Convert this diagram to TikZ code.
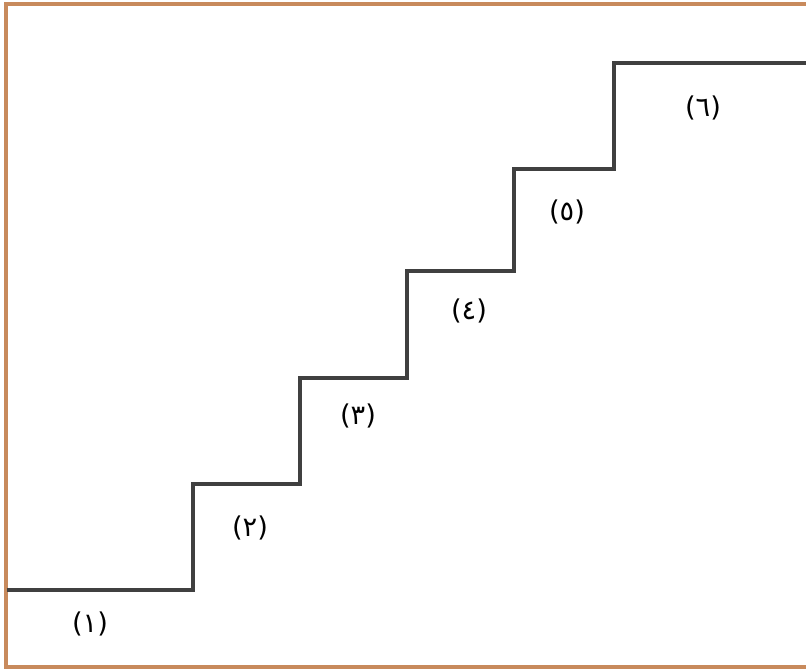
\documentclass[tikz,border=0pt]{standalone}
\usepackage{fontspec}
\usepackage{tikz}
\usetikzlibrary{positioning}
\newfontfamily\arabicfont[Script=Arabic]{DejaVu Sans}
\TeXXeTstate=1
\definecolor{colorMarco}{HTML}{C88A5C}
\definecolor{grisEscalera}{HTML}{404040}

\begin{document}
\begin{tikzpicture}[x=0.02cm, y=-0.02cm,
        marco/.style={draw=colorMarco, line width=2.2pt},
        escalera/.style={draw=grisEscalera, line width=2.1pt, line join=miter},
        num/.style={font=\arabicfont\fontsize{15.5}{18}\selectfont, text=black, inner sep=1pt}
    ]
        \useasboundingbox (0,0) rectangle (806,669);
        \draw[marco] (806,4) -- (6,4) -- (6,667) -- (806,667);
        \draw[escalera] (7,590) -- (193,590) -- (193,484) -- (300,484) -- (300,378)
            -- (407,378) -- (407,271) -- (514,271) -- (514,169) -- (614,169)
            -- (614,63) -- (806,63);
        \node[num] (n1) at (90,624) {\beginR(١)\endR};
        \node[num] (n2) at (250,528) {\beginR(٢)\endR};
        \node[num] (n3) at (358,416) {\beginR(٣)\endR};
        \node[num] (n4) at (469,311) {\beginR(٤)\endR};
        \node[num] (n5) at (567,212) {\beginR(٥)\endR};
        \node[num] (n6) at (703,108) {\beginR(٦)\endR};
    \end{tikzpicture}
\end{document}
